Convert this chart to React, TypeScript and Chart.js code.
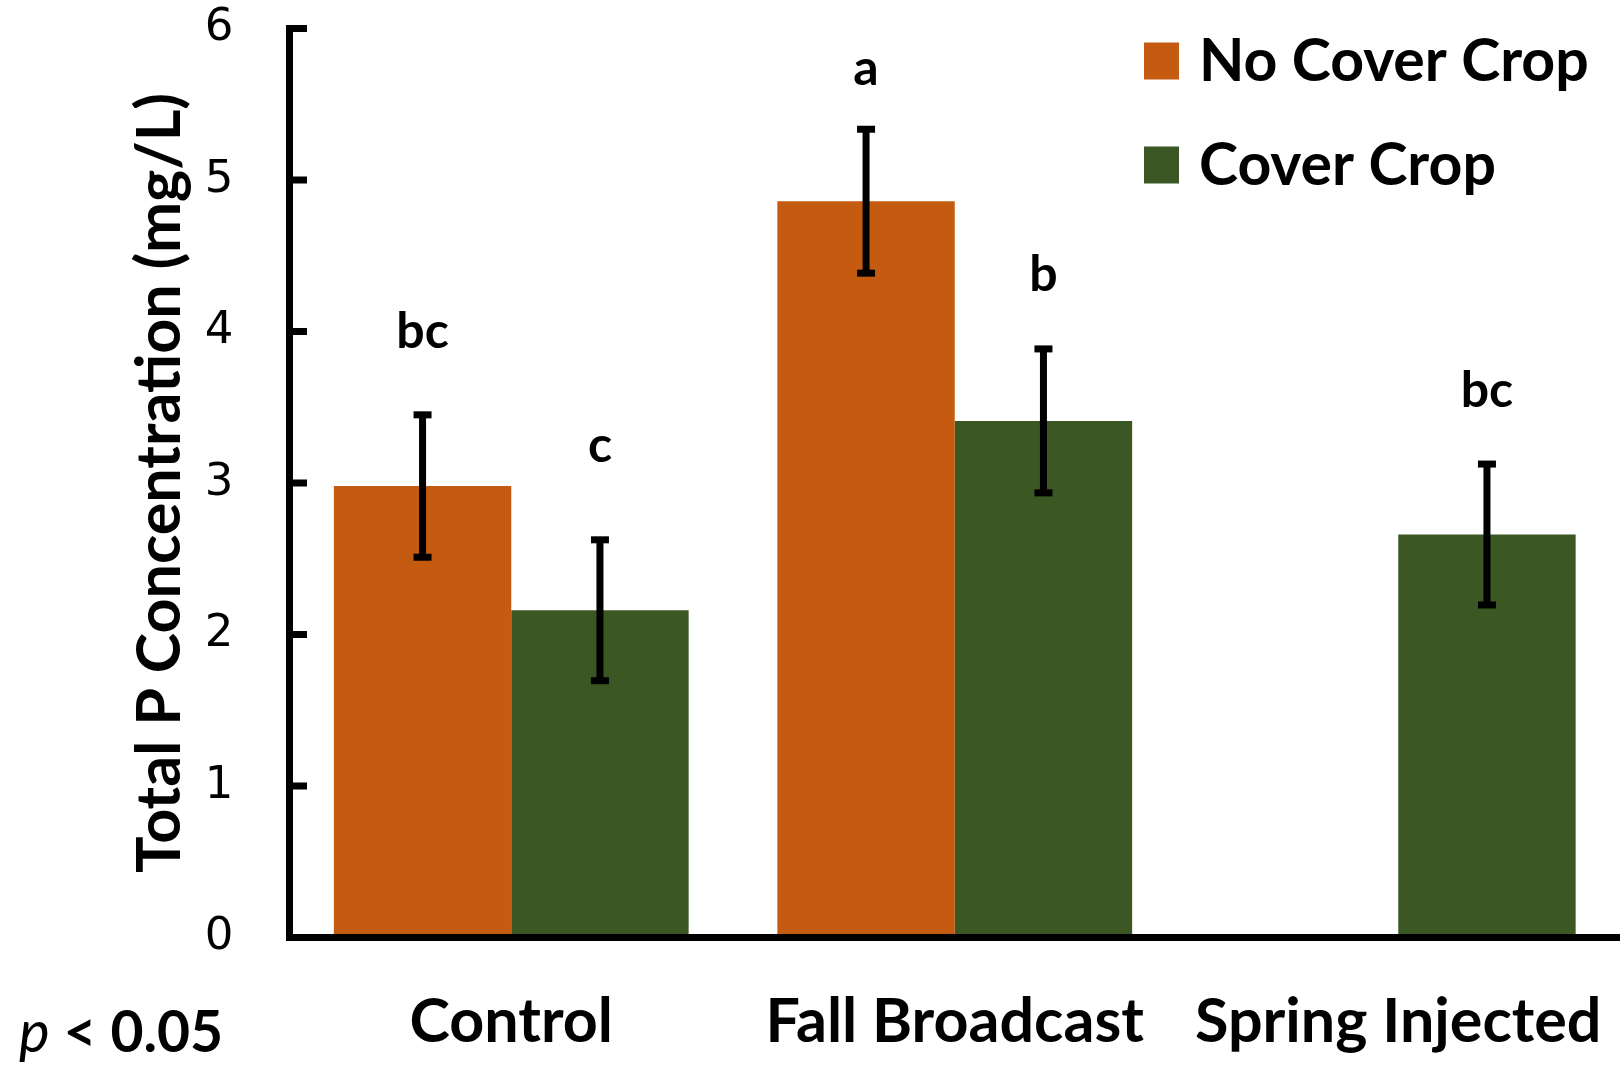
import React, { useEffect, useRef } from "react";
import { Chart, registerables } from "chart.js";

Chart.register(...registerables);

const categories = ["Control", "Fall Broadcast", "Spring Injected"];
const seriesNames = ["No Cover Crop", "Cover Crop"];
const noCoverCrop = [2.98, 4.86, null];
const coverCrop = [2.16, 3.41, 2.66];
const noCoverCropErr = [0.47, 0.475, null];
const coverCropErr = [0.465, 0.475, 0.465];
const noCoverCropLetters = ["bc", "a", null];
const coverCropLetters = ["c", "b", "bc"];
const noCoverCropLetterY = [3.89, 5.63, null];
const coverCropLetterY = [3.14, 4.27, 3.5];
const yMin = 0;
const yMax = 6;
const yStep = 1;
const yTitle = "Total P Concentration (mg/L)";
const noteItalic = "p";
const noteRest = " < 0.05";

const ORANGE = "#C55A11";
const GREEN = "#3A5724";
const LABEL_FONT = "Lato";

const overlay = {
  id: "overlay",
  afterDatasetsDraw(chart: any) {
    const ctx = chart.ctx;
    const { left, right, top, bottom } = chart.chartArea;
    const y = chart.scales.y;
    ctx.save();
    ctx.fillStyle = "#000";
    // axes
    ctx.fillRect(left - 3.5, top - 3.5, 7, bottom - top + 7);
    ctx.fillRect(left - 3.5, bottom - 3.5, right - left + 3.5, 7);
    y.ticks.forEach((t: any) => {
      const py = y.getPixelForValue(t.value);
      ctx.fillRect(left + 3.5, py - 3.5, 14, 7);
    });
    // error bars and letters
    chart.data.datasets.forEach((ds: any, di: number) => {
      const meta = chart.getDatasetMeta(di);
      ds.data.forEach((v: any, i: number) => {
        const e = ds.errors[i];
        if (v == null) return;
        const x = meta.data[i].x;
        if (e != null) {
          const yHi = y.getPixelForValue(v + e);
          const yLo = y.getPixelForValue(v - e);
          ctx.fillStyle = "#000";
          ctx.fillRect(x - 3.5, yHi, 7, yLo - yHi);
          ctx.fillRect(x - 9, yHi - 3.5, 18, 7);
          ctx.fillRect(x - 9, yLo - 3.5, 18, 7);
        }
        const letter = ds.letters[i];
        if (letter) {
          ctx.font = `bold 50px ${LABEL_FONT}`;
          ctx.textAlign = "center";
          ctx.textBaseline = "alphabetic";
          ctx.fillStyle = "#000";
          ctx.fillText(letter, x, y.getPixelForValue(ds.letterY[i]));
        }
      });
    });
    // legend
    const rows = [61, 165];
    chart.data.datasets.forEach((ds: any, di: number) => {
      const ry = rows[di];
      ctx.fillStyle = ds.backgroundColor;
      ctx.fillRect(right - 476, ry - 18.5, 35, 37);
      ctx.fillStyle = "#000";
      ctx.font = `bold 59px ${LABEL_FONT}`;
      ctx.textAlign = "left";
      ctx.textBaseline = "middle";
      ctx.fillText(ds.label, right - 421, ry + 1);
    });
    // significance note
    ctx.textAlign = "left";
    ctx.textBaseline = "alphabetic";
    ctx.fillStyle = "#000";
    ctx.font = `italic 58px ${LABEL_FONT}`;
    ctx.fillText(noteItalic, 19, 1052);
    const w = ctx.measureText(noteItalic).width;
    ctx.font = `bold 57px ${LABEL_FONT}`;
    ctx.fillText(noteRest, 19 + w, 1052);
    ctx.restore();
  },
};

export default function App() {
  const ref = useRef<HTMLCanvasElement | null>(null);
  useEffect(() => {
    document.body.style.margin = "0";
    if (!ref.current) return;
    const chart = new Chart(ref.current, {
      type: "bar",
      data: {
        labels: categories,
        datasets: [
          {
            label: seriesNames[0],
            data: noCoverCrop,
            backgroundColor: ORANGE,
            borderWidth: 0,
            categoryPercentage: 0.8,
            barPercentage: 1.0,
            errors: noCoverCropErr,
            letters: noCoverCropLetters,
            letterY: noCoverCropLetterY,
          } as any,
          {
            label: seriesNames[1],
            data: coverCrop,
            backgroundColor: GREEN,
            borderWidth: 0,
            categoryPercentage: 0.8,
            barPercentage: 1.0,
            errors: coverCropErr,
            letters: coverCropLetters,
            letterY: coverCropLetterY,
          } as any,
        ],
      },
      options: {
        animation: false,
        responsive: true,
        maintainAspectRatio: false,
        layout: { padding: { top: 28.5, left: 0, right: 0, bottom: 0 } },
        plugins: {
          legend: { display: false },
          tooltip: { enabled: false },
        },
        scales: {
          x: {
            type: "category",
            offset: true,
            grid: {
              display: true,
              drawOnChartArea: false,
              drawTicks: true,
              tickLength: 48.5,
              color: "rgba(0,0,0,0)",
            },
            border: { display: false },
            ticks: {
              color: "#000",
              font: { family: LABEL_FONT, size: 61, weight: "bold" },
              padding: 0,
              autoSkip: false,
              maxRotation: 0,
              minRotation: 0,
            },
            afterFit: (s: any) => {
              s.height = 127.5;
            },
          },
          y: {
            min: yMin,
            max: yMax,
            grid: {
              display: true,
              drawOnChartArea: false,
              drawTicks: true,
              tickLength: 56,
              color: "rgba(0,0,0,0)",
            },
            border: { display: false },
            ticks: {
              stepSize: yStep,
              color: "#000",
              font: { family: "DejaVu Sans", size: 45 },
              padding: 0,
            },
            title: {
              display: true,
              text: yTitle,
              color: "#000",
              font: { family: LABEL_FONT, size: 61, weight: "bold" },
              padding: { top: 124, bottom: 0 },
            },
            afterFit: (s: any) => {
              s.width = 289.5;
            },
          },
        },
      },
      plugins: [overlay],
    });
    return () => chart.destroy();
  }, []);
  return (
    <div style={{ width: 1620, height: 1065, position: "relative" }}>
      <canvas ref={ref} />
    </div>
  );
}
